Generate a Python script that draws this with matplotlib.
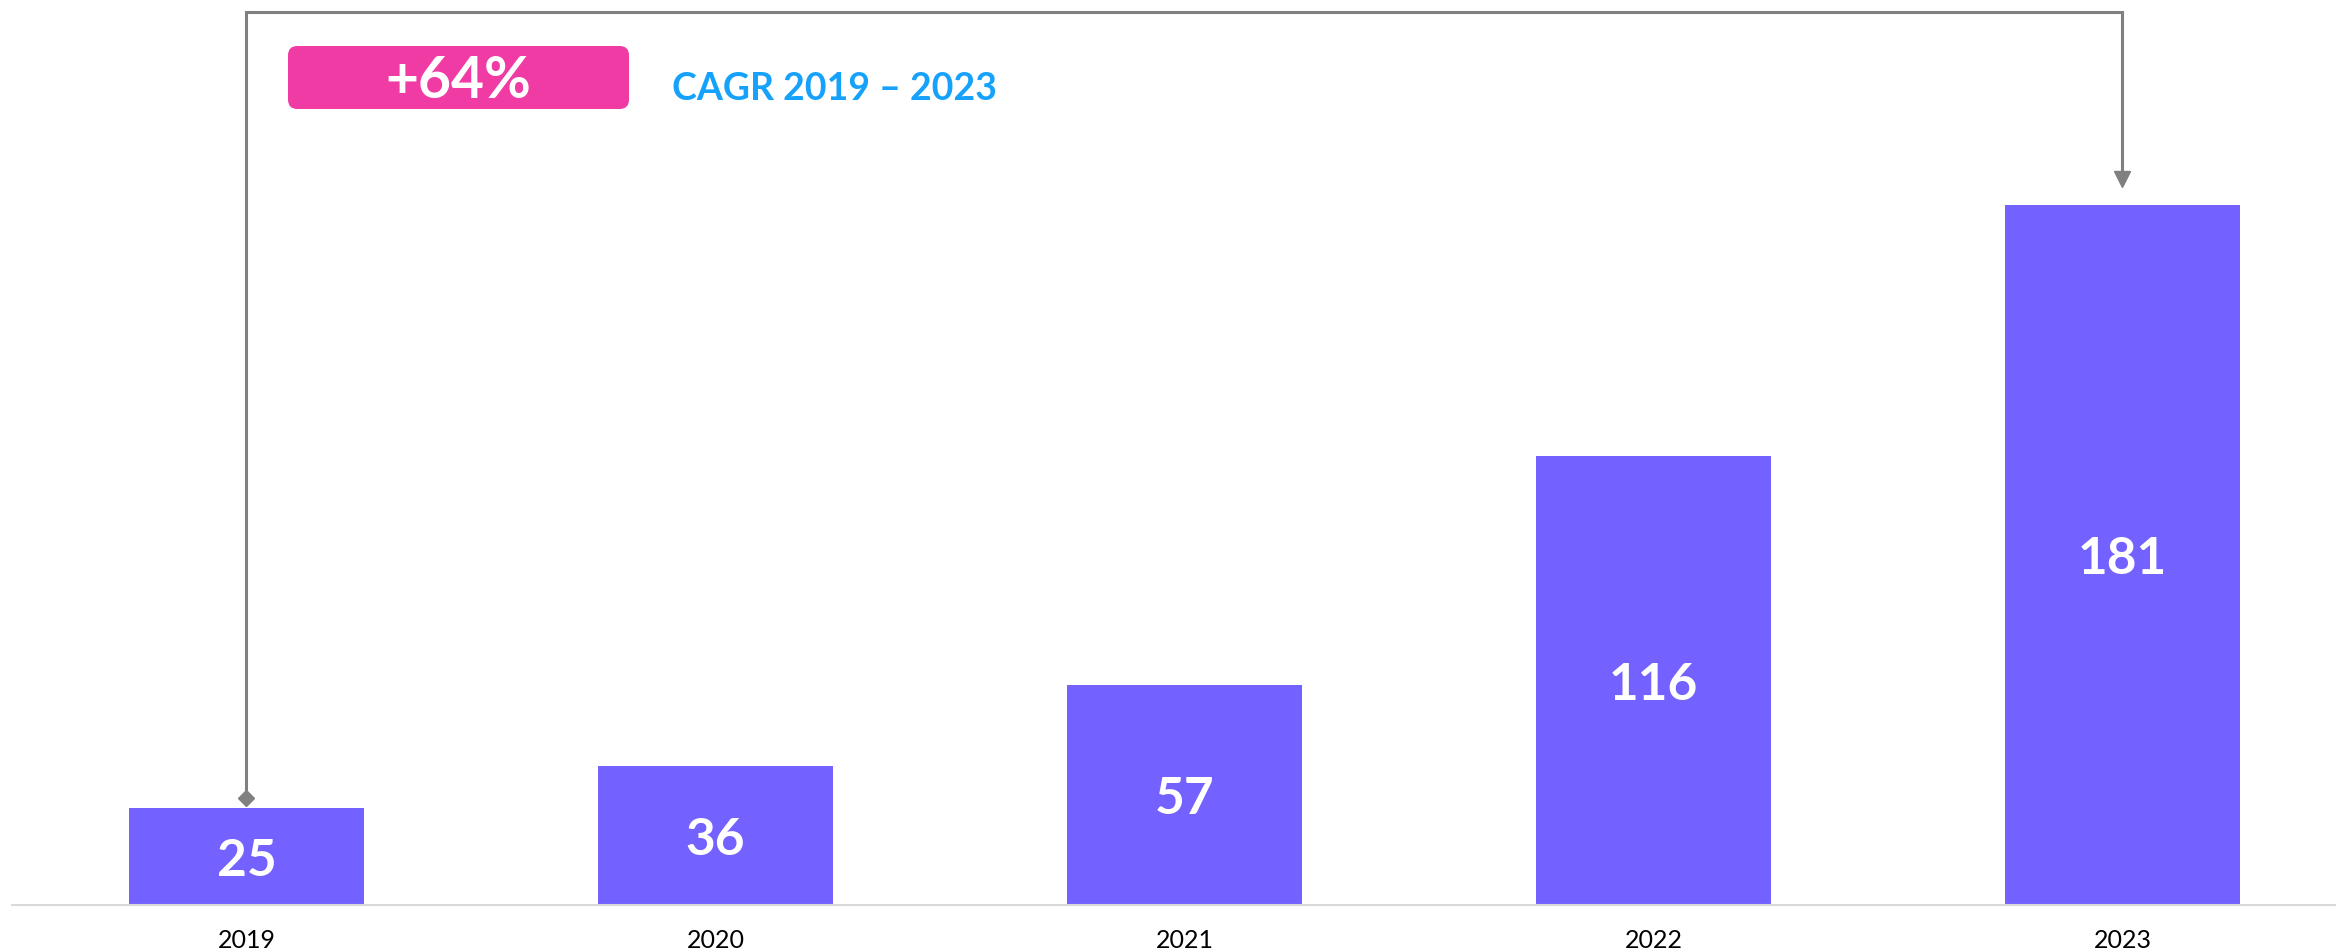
import matplotlib.pyplot as plt
from matplotlib.patches import FancyBboxPatch

years = ['2019', '2020', '2021', '2022', '2023']
values = [25, 36, 57, 116, 181]
cagr_label = '+64%'
cagr_text = 'CAGR 2019 – 2023'

bar_color = '#7362FF'
pink = '#F03BA5'
blue = '#16A2FA'
arrow_grey = '#808080'

plt.rcParams['font.family'] = ['Lato', 'DejaVu Sans']

W, H = 2343, 951
fig = plt.figure(figsize=(W / 100, H / 100), dpi=100)

# axes cover the whole canvas; baseline sits 46 px above the bottom edge
base_px = 905
px_per_unit = 700 / 181
ax = fig.add_axes([0, (H - base_px) / H, 1, base_px / H])
x = list(range(len(years)))
ax.bar(x, values, width=0.5, color=bar_color, zorder=2)
ax.set_xlim(-246.5 / 469, (W - 246.5) / 469)
ax.set_ylim(0, base_px / px_per_unit)
ax.axis('off')

# baseline
ax.plot([12 / 469 - 246.5 / 469, (2335 - 246.5) / 469], [0, 0],
        color='#D9D9D9', lw=1.5, zorder=3, clip_on=False)

for xi, v, yr in zip(x, values, years):
    ax.text(xi, v / 2 - 1.2, str(v), ha='center', va='center', color='white',
            fontsize=37, fontweight='bold', zorder=4)
    ax.text(xi, -9.3, yr, ha='center', va='center', color='black',
            fontsize=18, clip_on=False)

# growth bracket from first to last bar
top_y = 231
y0 = values[0] + 2.7
y1 = values[-1] + 4.7
ax.plot([0, 0, x[-1], x[-1]], [y0, top_y, top_y, y1 + 3],
        color=arrow_grey, lw=2.2, solid_joinstyle='miter', zorder=3)
ax.plot([0], [y0], marker='D', color=arrow_grey, markersize=8, zorder=3)
ax.plot([x[-1]], [y1 + 2], marker='v', color=arrow_grey, markersize=12, zorder=3)

# CAGR badge
bx0, by0, bx1, by1 = 288, 46, 629, 109
badge = FancyBboxPatch((bx0 / W, 1 - by1 / H), (bx1 - bx0) / W, (by1 - by0) / H,
                       boxstyle='round,pad=0,rounding_size=0.004',
                       transform=fig.transFigure, facecolor=pink,
                       edgecolor='none', mutation_aspect=W / H)
fig.patches.append(badge)
fig.text((bx0 + bx1) / 2 / W, 1 - 82 / H, cagr_label, ha='center', va='center',
         color='white', fontsize=41, fontweight='bold')
fig.text(672 / W, 1 - 89 / H, cagr_text, ha='left', va='center',
         color=blue, fontsize=27, fontweight='bold')

fig.savefig('out.png', dpi=100)
